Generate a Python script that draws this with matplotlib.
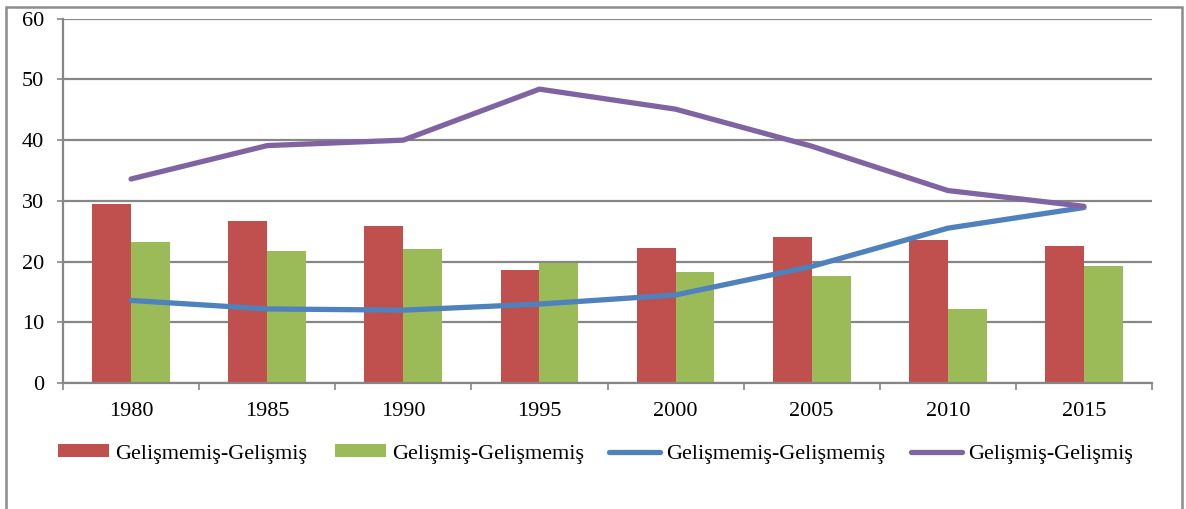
import numpy as np
import matplotlib.pyplot as plt
from matplotlib.patches import Rectangle, Patch
from matplotlib.lines import Line2D

plt.switch_backend("Agg")

years = ["1980", "1985", "1990", "1995", "2000", "2005", "2010", "2015"]
gelismemis_gelismis = [29.4, 26.6, 25.8, 18.6, 22.2, 24.0, 23.5, 22.5]
gelismis_gelismemis = [23.2, 21.7, 22.0, 19.7, 18.3, 17.6, 12.2, 19.2]
gelismemis_gelismemis = [13.6, 12.2, 12.0, 13.0, 14.5, 19.2, 25.5, 28.9]
gelismis_gelismis = [33.6, 39.1, 40.0, 48.4, 45.1, 39.0, 31.7, 29.1]

series_names = ["Gelişmemiş-Gelişmiş", "Gelişmiş-Gelişmemiş",
                "Gelişmemiş-Gelişmemiş", "Gelişmiş-Gelişmiş"]

RED = "#C0504D"
GREEN = "#9BBB59"
BLUE = "#4F81BD"
PURPLE = "#8064A2"
GRID = "#868686"

plt.rcParams["font.family"] = ["Liberation Serif", "DejaVu Serif"]

W, H = 1186, 509
fig = plt.figure(figsize=(W / 100, H / 100), dpi=100)
ax = fig.add_axes([63 / W, 1 - 383 / H, (1152 - 63) / W, (383 - 18.7) / H])

x = np.arange(len(years))
bw = 1 / 3.5
ax.bar(x - bw / 2, gelismemis_gelismis, width=bw, color=RED, zorder=2)
ax.bar(x + bw / 2, gelismis_gelismemis, width=bw, color=GREEN, zorder=2)
ax.plot(x, gelismemis_gelismemis, color=BLUE, lw=3.8, solid_capstyle="round",
        solid_joinstyle="round", zorder=3)
ax.plot(x, gelismis_gelismis, color=PURPLE, lw=3.8, solid_capstyle="round",
        solid_joinstyle="round", zorder=3)

ax.set_xlim(-0.5, len(years) - 0.5)
ax.set_ylim(0, 60)
ax.set_yticks(range(0, 61, 10))
ax.yaxis.grid(True, color=GRID, lw=1.6)
ax.set_axisbelow(True)

ax.set_xticks(np.arange(-0.5, len(years), 1.0))
ax.set_xticklabels([])
ax.set_xticks(x, minor=True)
ax.set_xticklabels(years, minor=True)
ax.tick_params(axis="x", which="major", length=5, width=1.2, color=GRID, direction="out")
ax.tick_params(axis="x", which="minor", length=0, pad=14, labelsize=16)
ax.tick_params(axis="y", length=4.5, width=1.2, color=GRID, pad=9, labelsize=16)

for side in ["top", "right"]:
    ax.spines[side].set_visible(False)
for side in ["left", "bottom"]:
    ax.spines[side].set_color(GRID)
    ax.spines[side].set_linewidth(1.6)

# outer chart border
fig.add_artist(Rectangle((6 / W, -0.02), (1182 - 6) / W, 1.02 - 7 / H,
                         transform=fig.transFigure, fill=False,
                         edgecolor="#8c8c8c", lw=1.8))

handles = [
    Patch(facecolor=RED),
    Patch(facecolor=GREEN),
    Line2D([], [], color=BLUE, lw=3.8, solid_capstyle="round"),
    Line2D([], [], color=PURPLE, lw=3.8, solid_capstyle="round"),
]
starts = [58, 335, 609, 911]
for h, name, sx in zip(handles, series_names, starts):
    fig.legend([h], [name], loc="center left",
               bbox_to_anchor=(sx / W, 1 - 454 / H),
               frameon=False, fontsize=16, handlelength=2.3,
               handleheight=0.5, handletextpad=0.25, borderpad=0,
               borderaxespad=0)

fig.savefig("out.png", dpi=100)
